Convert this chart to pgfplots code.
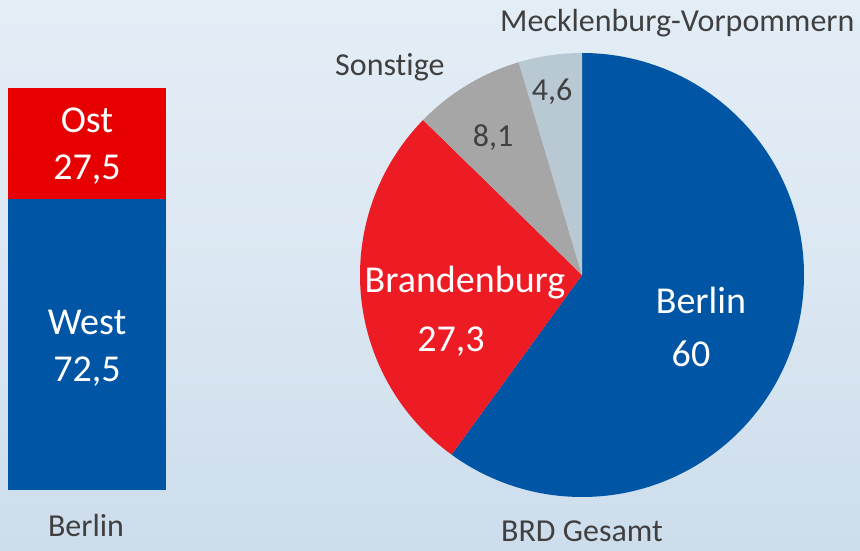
\documentclass[border=0pt]{standalone}
\usepackage{pgfplots}
\pgfplotsset{compat=1.18}
\usepackage{fontspec}
\setmainfont[Ligatures=NoCommon]{Carlito}
\definecolor{bblue}{RGB}{0,85,165}
\definecolor{bred}{RGB}{230,0,0}
\definecolor{pred}{RGB}{237,28,36}
\definecolor{pgrey}{RGB}{166,166,166}
\definecolor{plight}{RGB}{184,201,212}
\definecolor{txt}{RGB}{64,64,64}
\definecolor{bgtop}{RGB}{227,237,246}
\definecolor{bgmid}{RGB}{219,231,242}
\definecolor{bgbot}{RGB}{205,221,236}
\newcommand{\lab}{\fontsize{32}{38}\selectfont}
\newcommand{\biglab}{\fontsize{38}{45}\selectfont}
\begin{document}
\begin{tikzpicture}
\useasboundingbox (0,0) rectangle (860pt,551pt);
\shade[top color=bgtop, bottom color=bgbot, middle color=bgmid] (0,0) rectangle (860pt,551pt);
% stacked bar axis: Berlin, West 72.5, Ost 27.5
\begin{axis}[at={(8pt,61pt)}, anchor=south west, width=158pt, height=402pt,
  scale only axis, xmin=-0.5, xmax=0.5, ymin=0, ymax=100, hide axis, clip=false,
  ybar stacked, bar width=158pt]
  \addplot[fill=bblue, draw=none] coordinates {(0,72.5)};
  \addplot[fill=bred, draw=none] coordinates {(0,27.5)};
\end{axis}
% pie axis in pixel coordinates
\begin{axis}[at={(0pt,0pt)}, anchor=south west, width=860pt, height=551pt,
  scale only axis, xmin=0, xmax=860, ymin=0, ymax=551, hide axis, clip=false]
  % data: Berlin 60, Brandenburg 27.3, Sonstige 8.1, Mecklenburg-Vorpommern 4.6
  \pgfmathsetmacro{\aA}{90}
  \pgfmathsetmacro{\aB}{\aA-3.6*60}
  \pgfmathsetmacro{\aC}{\aB-3.6*27.3}
  \pgfmathsetmacro{\aD}{\aC-3.6*8.1}
  \pgfmathsetmacro{\aE}{\aD-3.6*4.6}
  \fill[bblue] (axis cs:582,276) -- +(\aA:222pt) arc[start angle=\aA, end angle=\aB, radius=222pt] -- cycle;
  \fill[pred] (axis cs:582,276) -- +(\aB:222pt) arc[start angle=\aB, end angle=\aC, radius=222pt] -- cycle;
  \fill[pgrey] (axis cs:582,276) -- +(\aC:222pt) arc[start angle=\aC, end angle=\aD, radius=222pt] -- cycle;
  \fill[plight] (axis cs:582,276) -- +(\aD:222pt) arc[start angle=\aD, end angle=\aE, radius=222pt] -- cycle;
  \node[anchor=base west, txt, font=\lab, inner sep=0] at (axis cs:500,519) {Mecklenburg-Vorpommern};
  \node[anchor=base west, txt, font=\lab, inner sep=0] at (axis cs:335,475) {Sonstige};
  \node[anchor=base, txt, font=\lab, inner sep=0] at (axis cs:552,450) {4,6};
  \node[anchor=base, txt, font=\lab, inner sep=0] at (axis cs:493,404) {8,1};
  \node[anchor=base, white, font=\biglab, inner sep=0] at (axis cs:465,258) {Brandenburg};
  \node[anchor=base, white, font=\biglab, inner sep=0] at (axis cs:451,199) {27,3};
  \node[anchor=base, white, font=\biglab, inner sep=0] at (axis cs:701,237) {Berlin};
  \node[anchor=base, white, font=\biglab, inner sep=0] at (axis cs:691,184) {60};
  \node[anchor=base, txt, font=\lab, inner sep=0] at (axis cs:582,9) {BRD Gesamt};
  \node[anchor=base, txt, font=\lab, inner sep=0] at (axis cs:86,14) {Berlin};
  % bar labels
  \node[anchor=base, white, font=\biglab, inner sep=0] at (axis cs:87,418) {Ost};
  \node[anchor=base, white, font=\biglab, inner sep=0] at (axis cs:87,371) {27,5};
  \node[anchor=base, white, font=\biglab, inner sep=0] at (axis cs:87,216) {West};
  \node[anchor=base, white, font=\biglab, inner sep=0] at (axis cs:87,169) {72,5};
\end{axis}
\end{tikzpicture}
\end{document}
